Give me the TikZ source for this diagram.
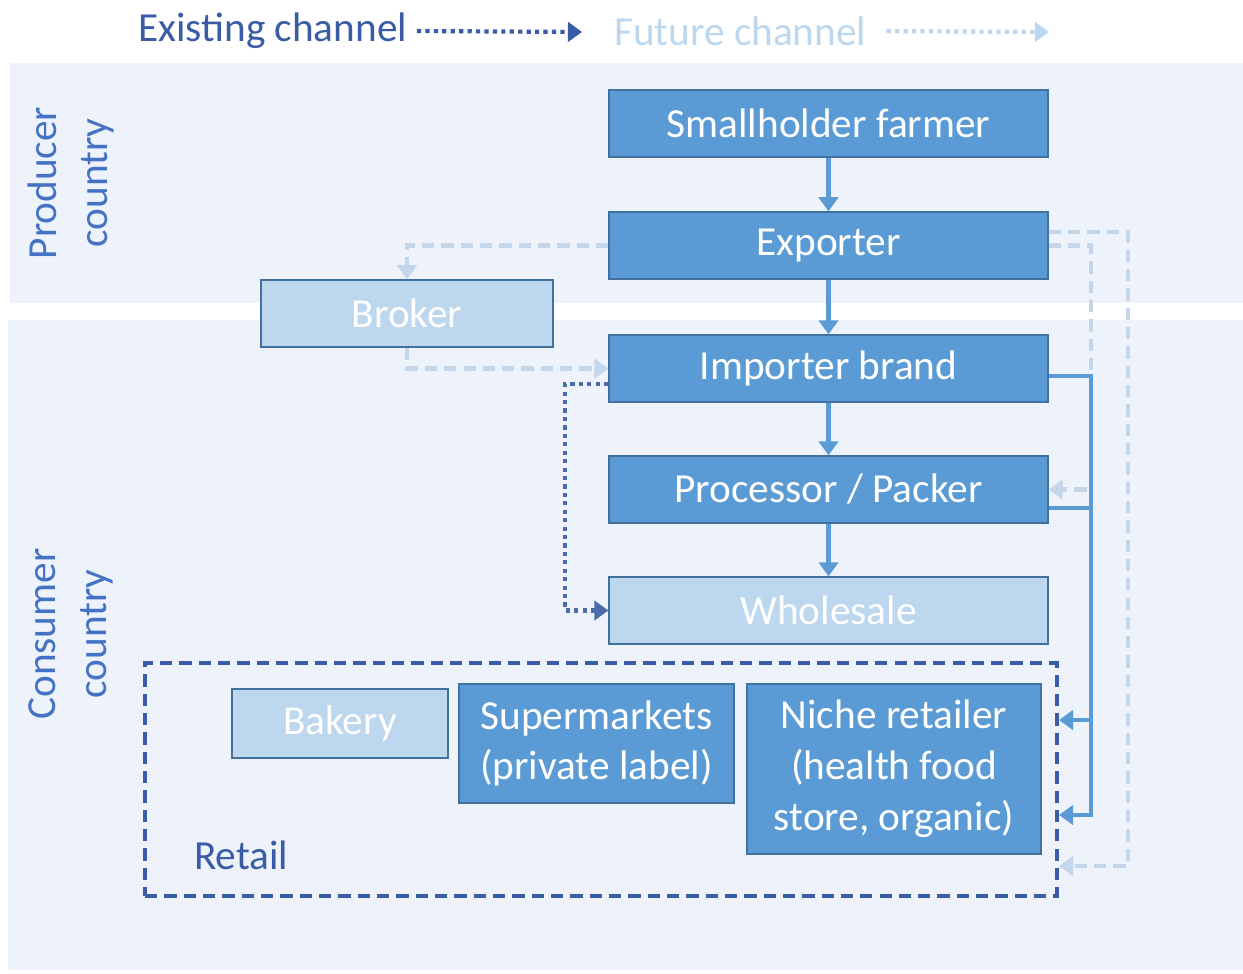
\documentclass[tikz,border=0pt]{standalone}
\usepackage{fontspec}
\setmainfont{Carlito}
\usetikzlibrary{arrows.meta}

\definecolor{boxblue}{HTML}{5B9BD5}
\definecolor{boxpale}{HTML}{BDD7EE}
\definecolor{boxedge}{HTML}{41719C}
\definecolor{bandbg}{HTML}{EEF2FA}
\definecolor{labelblue}{HTML}{4472C4}
\definecolor{retailblue}{HTML}{3A5BA5}
\definecolor{futureline}{HTML}{C5D6EA}
\definecolor{existline}{HTML}{4A6DA8}

\begin{document}
\begin{tikzpicture}[x=0.02cm, y=-0.02cm,
    every node/.style={font=\fontsize{23.5}{29}\selectfont},
    chain/.style={draw=boxedge, line width=0.8pt, fill=boxblue, text=white,
        minimum width=8.78cm, minimum height=1.34cm, inner sep=0pt},
    pale/.style={chain, fill=boxpale},
    flow/.style={draw=boxblue, line width=2.4pt, -{Triangle[width=11pt,length=8pt]}},
    future/.style={draw=futureline, line width=2.4pt, dash pattern=on 7pt off 4pt,
        -{Triangle[width=11pt,length=8pt]}},
    existing/.style={draw=existline, line width=2.4pt, dash pattern=on 2.4pt off 2.4pt,
        -{Triangle[width=11pt,length=8pt]}}]
    \useasboundingbox (0,0) rectangle (1243,973);
    \fill[white] (0,0) rectangle (1243,973);
    % the two country bands
    \fill[bandbg] (10,63) rectangle (1243,303);
    \fill[bandbg] (8,320) rectangle (1243,970);
    \node[text=labelblue, rotate=90, align=center] (producer) at (71,183) {Producer\\country};
    \node[text=labelblue, rotate=90, align=center] (consumer) at (71,634) {Consumer\\country};

    % legend
    \node[text=retailblue, anchor=west] (legexist) at (132,31) {Existing channel};
    \node[text=boxpale, anchor=west] (legfuture) at (608,31) {Future channel};
    \coordinate (legexistend) at (582,32);
    \coordinate (legfutureend) at (1049,32);
    \draw[existing, draw=retailblue, shorten <=2pt] (legexist.east) -- (legexistend);
    \draw[existing, draw=boxpale, shorten <=8pt] (legfuture.east) -- (legfutureend);

    % main chain
    \node[chain] (farmer) at (828.5,123.5) {Smallholder farmer};
    \node[chain] (exp) at (828.5,245.5) {Exporter};
    \node[chain] (impb) at (828.5,368.5) {Importer brand};
    \node[chain] (proc) at (828.5,489.5) {Processor / Packer};
    \node[pale] (whole) at (828.5,610.5) {Wholesale};
    \node[pale, minimum width=5.84cm] (broker) at (407,313.5) {Broker};

    % retail
    \node[draw=retailblue, line width=2.4pt, dash pattern=on 7pt off 4pt,
        minimum width=18.24cm, minimum height=4.66cm] (retail) at (601,779.5) {};
    \node[pale, minimum width=4.32cm, minimum height=1.38cm] (bakery) at (340,723.5) {Bakery};
    \node[chain, minimum width=5.5cm, minimum height=2.38cm, align=center] (super) at (596.5,743.5) {Supermarkets\\(private label)};
    \node[chain, minimum width=5.88cm, minimum height=3.4cm, align=center] (niche) at (894,769) {Niche retailer\\(health food\\store, organic)};
    \node[text=retailblue, anchor=west] (retaillbl) at (188,855) {Retail};

    % future channels
    \draw[future] (exp.west) -| (broker.north);
    \draw[future] (broker.south) |- (impb.west);
    \draw[future] (exp.east) -- ++(42,0) |- (proc.east);
    \draw[future] ([yshift=0.27cm]exp.east) -- ++(79,0) |- ([yshift=-1.73cm]retail.east);

    % existing channels
    \draw[flow] (farmer) -- (exp);
    \draw[flow] (exp) -- (impb);
    \draw[flow] (impb) -- (proc);
    \draw[flow] (proc) -- (whole);
    \draw[existing] ([yshift=-0.31cm]impb.west) -- ++(-43,0) |- (whole.west);
    \draw[flow] ([yshift=-0.15cm]impb.east) -- ++(42,0) |- ([yshift=-0.71cm]retail.east);
    \draw[flow] ([yshift=-0.37cm]proc.east) -- ++(42,0) |- ([yshift=1.19cm]retail.east);
\end{tikzpicture}
\end{document}
